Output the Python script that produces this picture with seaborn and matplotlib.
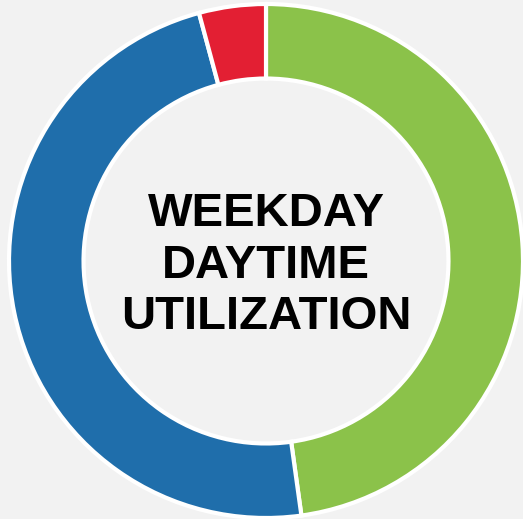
import matplotlib
matplotlib.use("Agg")
import matplotlib.pyplot as plt
import seaborn as sns

# slice data (clockwise from 12 o'clock)
categories = ["In Use", "Available", "Out of Service"]
shares = [47.8, 48.0, 4.2]
colors = ["#8BC24A", "#1F6EAB", "#E31F33"]
title_lines = ["WEEKDAY", "DAYTIME", "UTILIZATION"]

sns.set_style("white")
plt.rcParams["font.family"] = ["Liberation Sans", "DejaVu Sans"]

fig = plt.figure(figsize=(5.23, 5.19), dpi=100, facecolor="#f2f2f2")
ax = fig.add_axes([0, 0, 1, 1])
ax.set_facecolor("#f2f2f2")

ax.pie(shares, labels=None, colors=colors, startangle=90, counterclock=False,
       radius=1.0, wedgeprops=dict(width=0.29, edgecolor="white", linewidth=3))

# centre label, nudged a few pixels down like the original
ax.text(0, -0.018, "\n".join(title_lines), ha="center", va="center",
        fontsize=34, fontweight="bold", color="black", linespacing=1.23)

ax.set_xlim(-266 / 257, 257 / 257)
ax.set_ylim(-258 / 257, 261 / 257)
ax.set_aspect("equal")
ax.axis("off")

fig.savefig("out.png", dpi=100, facecolor="#f2f2f2")
plt.close()
